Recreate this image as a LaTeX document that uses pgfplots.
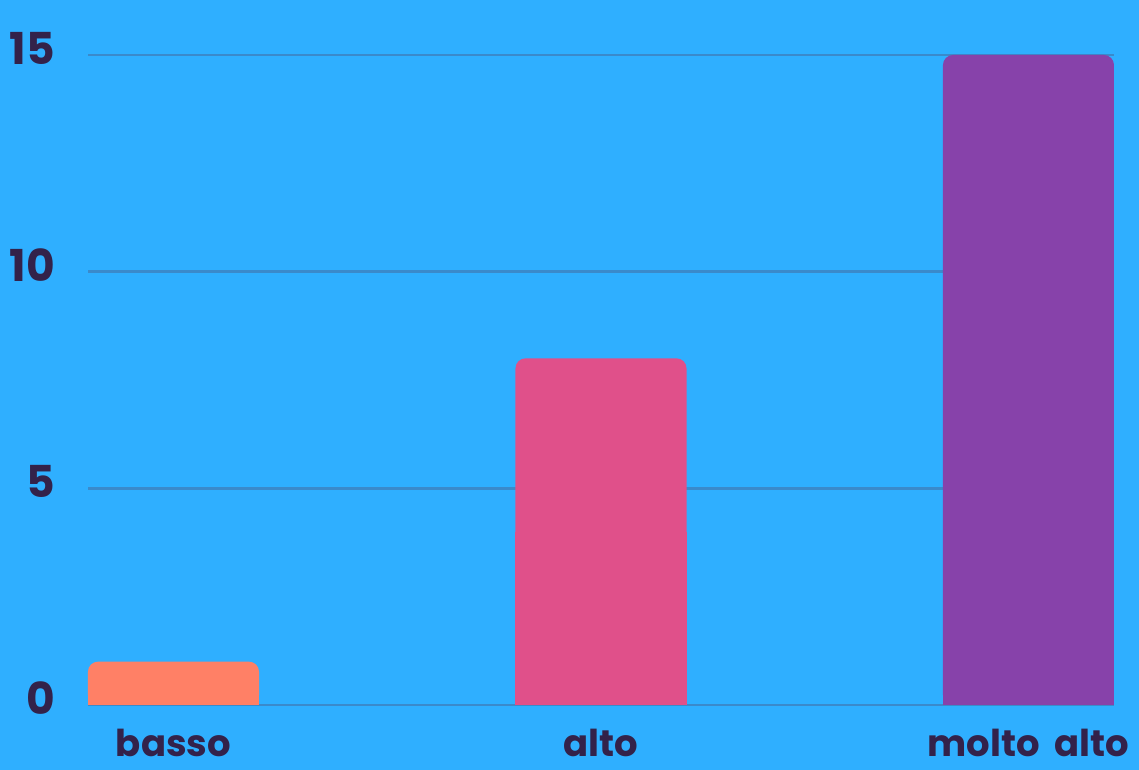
\documentclass[border=0pt]{standalone}
\usepackage{fontspec}
\setmainfont{Poppins}
\usepackage{pgfplots}
\pgfplotsset{compat=1.18}
\definecolor{bg}{HTML}{2FAFFF}
\definecolor{gridc}{HTML}{3A8ACB}
\definecolor{txt}{HTML}{33224A}
\definecolor{c1}{HTML}{FF8066}
\definecolor{c2}{HTML}{E0508A}
\definecolor{c3}{HTML}{8742AA}
\pgfplotsset{mybar/.style={ybar, bar width=171bp, bar shift=0pt, draw=none, fill=#1}}
\begin{document}
\begin{tikzpicture}[x=1bp,y=1bp]
\fill[bg] (0,0) rectangle (1139,770);
\begin{axis}[
  at={(88bp,65bp)}, anchor=south west,
  scale only axis, width=1026bp, height=650bp,
  xmin=-0.2, xmax=2.2, ymin=0, ymax=15,
  clip=false,
  axis line style={draw=none},
  tick style={draw=none},
  ytick={0,5,10,15},
  ymajorgrids,
  grid style={gridc, line width=2.5bp},
  xtick={0,1,2},
  xticklabels={basso,alto,molto\hspace{15bp}alto},
  /pgf/number format/assume math mode=true,
  ticklabel style={text=txt, inner sep=0pt},
  xticklabel style={font=\fontsize{37bp}{44bp}\selectfont\bfseries, anchor=base, yshift=-52bp, text depth=0pt},
  yticklabel style={font=\fontsize{44bp}{52bp}\selectfont\bfseries, anchor=east, xshift=-33bp, yshift=7bp},
]
\addplot[mybar=c1, rounded corners=10bp] coordinates {(0,1)};
\addplot[mybar=c1] coordinates {(0,0.5)};
\addplot[mybar=c2, rounded corners=10bp] coordinates {(1,8)};
\addplot[mybar=c2] coordinates {(1,4)};
\addplot[mybar=c3, rounded corners=10bp] coordinates {(2,15)};
\addplot[mybar=c3] coordinates {(2,7.5)};
\end{axis}
\pgfresetboundingbox
\path (0,0) rectangle (1139,770);
\end{tikzpicture}
\end{document}
